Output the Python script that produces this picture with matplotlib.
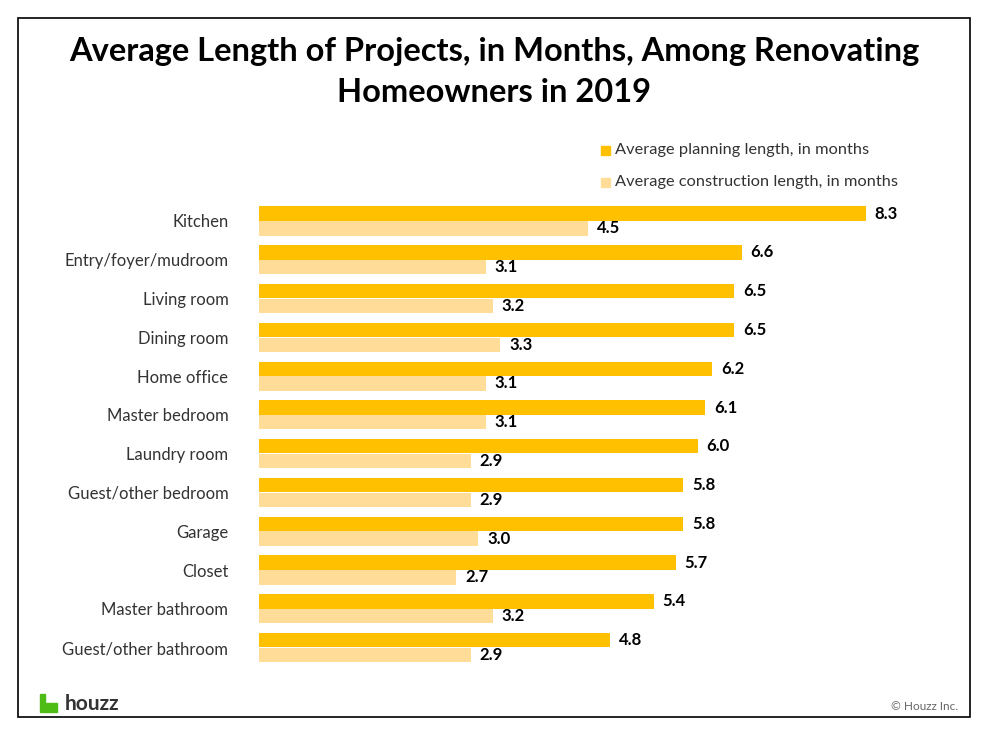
import matplotlib.pyplot as plt
from matplotlib.patches import Rectangle

rooms = ['Kitchen', 'Entry/foyer/mudroom', 'Living room', 'Dining room', 'Home office',
         'Master bedroom', 'Laundry room', 'Guest/other bedroom', 'Garage', 'Closet',
         'Master bathroom', 'Guest/other bathroom']
planning = [8.3, 6.6, 6.5, 6.5, 6.2, 6.1, 6.0, 5.8, 5.8, 5.7, 5.4, 4.8]
construction = [4.5, 3.1, 3.2, 3.3, 3.1, 3.1, 2.9, 2.9, 3.0, 2.7, 3.2, 2.9]

plt.rcParams['font.family'] = ['Lato', 'DejaVu Sans']
c_plan = '#FFC000'
c_cons = '#FFDD99'

fig = plt.figure(figsize=(9.9, 7.38), dpi=100)
fig.patches.append(Rectangle((18 / 990, 1 - 717 / 738), 952 / 990, 699 / 738, transform=fig.transFigure,
                             fill=False, edgecolor='black', linewidth=1.2))

ax = fig.add_axes([259 / 990, 1 - 667 / 738, 658 / 990, 465.4 / 738])
y = list(range(len(rooms)))
ax.barh([i - 0.19 for i in y], planning, height=0.37, color=c_plan)
ax.barh([i + 0.19 for i in y], construction, height=0.37, color=c_cons)
for i in y:
    ax.text(planning[i] + 0.12, i - 0.19, f'{planning[i]:.1f}', va='center', fontsize=12, fontweight='bold')
    ax.text(construction[i] + 0.12, i + 0.19, f'{construction[i]:.1f}', va='center', fontsize=12, fontweight='bold')
ax.set_xlim(0, 9)
ax.set_ylim(11.5, -0.5)
ax.set_yticks(y)
ax.set_yticklabels(rooms, fontsize=12, color='#333333')
ax.tick_params(axis='y', length=0, pad=22)
ax.set_xticks([])
for s in ax.spines.values():
    s.set_visible(False)

fig.text(0.499, 1 - 52 / 738, 'Average Length of Projects, in Months, Among Renovating',
         ha='center', va='center', fontsize=23.5, fontweight='bold')
fig.text(0.499, 1 - 92 / 738, 'Homeowners in 2019', ha='center', va='center', fontsize=23.5, fontweight='bold')

for yy, col, lab in [(150, c_plan, 'Average planning length, in months'),
                     (182, c_cons, 'Average construction length, in months')]:
    fig.patches.append(Rectangle((601 / 990, 1 - (yy + 5) / 738), 9 / 990, 9 / 738,
                                 transform=fig.transFigure, color=col))
    fig.text(615 / 990, 1 - yy / 738, lab, va='center', fontsize=11.8, color='#333333')

fig.patches.append(Rectangle((40 / 990, 1 - 712 / 738), 5 / 990, 18 / 738, transform=fig.transFigure, color='#4DBC15'))
fig.patches.append(Rectangle((45 / 990, 1 - 712 / 738), 12 / 990, 9 / 738, transform=fig.transFigure, color='#4DBC15'))
fig.text(65 / 990, 1 - 704 / 738, 'houzz', va='center', fontsize=15, fontweight='bold', color='#333333')
fig.text(958 / 990, 1 - 706 / 738, '© Houzz Inc.', ha='right', va='center', fontsize=8.5, color='#666666')

fig.savefig('out.png', dpi=100)
